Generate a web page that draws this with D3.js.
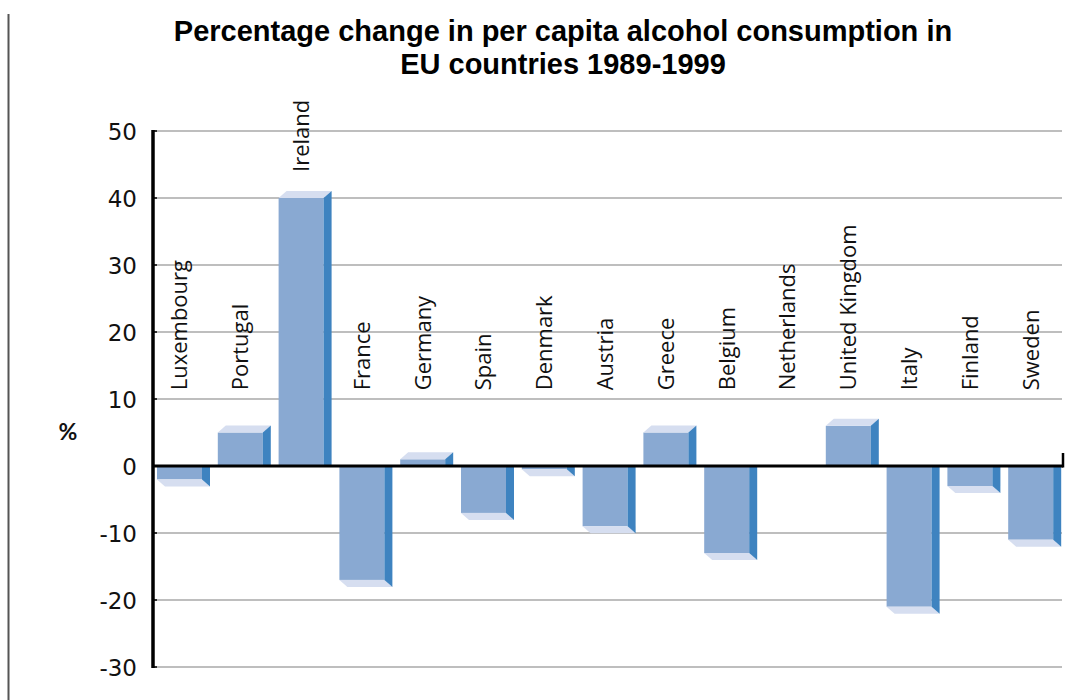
<!DOCTYPE html>
<html>
<head>
<meta charset="utf-8">
<script src="https://cdn.jsdelivr.net/npm/d3@7"></script>
<style>
  html, body { margin: 0; padding: 0; background: #fff; }
  svg { display: block; }
</style>
</head>
<body>
<svg id="chart" width="1090" height="700"></svg>
<script>
const categories = ["Luxembourg","Portugal","Ireland","France","Germany","Spain","Denmark","Austria","Greece","Belgium","Netherlands","United Kingdom","Italy","Finland","Sweden"];
const values = [-2, 5, 40, -17, 1, -7, -0.5, -9, 5, -13, 0, 6, -21, -3, -11];
const yTicks = [-30, -20, -10, 0, 10, 20, 30, 40, 50];
const titleLines = ["Percentage change in per capita alcohol consumption in", "EU countries 1989-1999"];
const yLabel = "%";

(function () {
const svg = d3.select("#chart");
const pLeft = 153, pRight = 1063, pTop = 131, pBottom = 667;

const y = d3.scaleLinear().domain([-30, 50]).range([pBottom, pTop]);
const x = d3.scaleBand().domain(categories).range([153, 1065]).paddingInner(0).paddingOuter(0);

const frontW = 45, dx = 8, dy = 7, off = 4;
const cFront = "#89a9d2", cSide = "#3e83c0", cCap = "#d6def0";

// left border line
svg.append("line").attr("x1", 8.5).attr("x2", 8.5).attr("y1", 14).attr("y2", 700)
  .attr("stroke", "#555").attr("stroke-width", 2);

// title
const title = svg.append("text").attr("text-anchor", "middle")
  .attr("font-family", "'Liberation Sans Narrow', 'Arial Narrow', 'Liberation Sans', sans-serif")
  .attr("font-weight", "bold").attr("font-size", 29).attr("fill", "#000");
titleLines.forEach((t, i) => {
  title.append("tspan").attr("x", 563).attr("y", 41 + i * 33).text(t);
});

// gridlines
svg.append("g").selectAll("line").data(yTicks.filter(t => t !== 0)).join("line")
  .attr("x1", pLeft).attr("x2", 1062)
  .attr("y1", d => y(d)).attr("y2", d => y(d))
  .attr("stroke", "#a8a8a8").attr("stroke-width", 1.5);

// y axis
const yAxis = d3.axisLeft(y).tickValues(yTicks).tickSize(0).tickPadding(16).tickFormat(d => String(d));
const gy = svg.append("g").attr("transform", `translate(${pLeft},0)`).call(yAxis);
gy.select(".domain").remove();
gy.selectAll("text").attr("font-family", "'DejaVu Sans', sans-serif")
  .attr("font-size", 23).attr("fill", "#111").attr("dy", "0.36em");
// small ticks inward
svg.append("g").selectAll("line").data(yTicks).join("line")
  .attr("x1", pLeft).attr("x2", pLeft + 4)
  .attr("y1", d => y(d)).attr("y2", d => y(d))
  .attr("stroke", "#000").attr("stroke-width", 1.5);

// bars
const g = svg.append("g");
categories.forEach((c, i) => {
  const v = values[i];
  if (v === 0) return;
  const x0 = x(c) + off, x1 = x0 + frontW;
  const y0 = y(0), yv = y(v);
  if (v > 0) {
    g.append("rect").attr("x", x0).attr("y", yv).attr("width", frontW).attr("height", y0 - yv).attr("fill", cFront);
    g.append("path").attr("d", `M${x0},${yv}L${x1},${yv}L${x1 + dx},${yv - dy}L${x0 + dx},${yv - dy}Z`).attr("fill", cCap);
    g.append("path").attr("d", `M${x1},${yv}L${x1 + dx},${yv - dy}L${x1 + dx},${y0}L${x1},${y0}Z`).attr("fill", cSide);
  } else {
    g.append("rect").attr("x", x0).attr("y", y0).attr("width", frontW).attr("height", yv - y0).attr("fill", cFront);
    g.append("path").attr("d", `M${x0},${yv}L${x1},${yv}L${x1 + dx},${yv + dy}L${x0 + dx},${yv + dy}Z`).attr("fill", cCap);
    g.append("path").attr("d", `M${x1},${y0}L${x1 + dx},${y0}L${x1 + dx},${yv + dy}L${x1},${yv}Z`).attr("fill", cSide);
  }
});

// zero line
svg.append("line").attr("x1", pLeft).attr("x2", pRight).attr("y1", y(0)).attr("y2", y(0))
  .attr("stroke", "#000").attr("stroke-width", 3);
svg.append("line").attr("x1", pRight).attr("x2", pRight).attr("y1", y(0) - 13).attr("y2", y(0) + 1.5)
  .attr("stroke", "#000").attr("stroke-width", 2.5);

// y axis line
svg.append("line").attr("x1", pLeft).attr("x2", pLeft).attr("y1", pTop - 1).attr("y2", pBottom + 1)
  .attr("stroke", "#000").attr("stroke-width", 3.5);

// category labels
svg.append("g").selectAll("text").data(categories).join("text")
  .attr("transform", (d, i) => {
    const cx = x(d) + off + frontW / 2;
    const ye = Math.min(y(11) - 2, y(values[i]) - 26);
    return `translate(${cx},${ye}) rotate(-90)`;
  })
  .attr("dy", "0.36em")
  .attr("text-anchor", "start")
  .attr("font-family", "'Open Sans', sans-serif")
  .attr("font-size", 22).attr("fill", "#111")
  .text(d => d);

// % label
svg.append("text").attr("x", 68).attr("y", 440).attr("text-anchor", "middle")
  .attr("font-family", "Lato, sans-serif").attr("font-weight", "bold")
  .attr("font-size", 23).attr("fill", "#111").text(yLabel);
})();
</script>
</body>
</html>
